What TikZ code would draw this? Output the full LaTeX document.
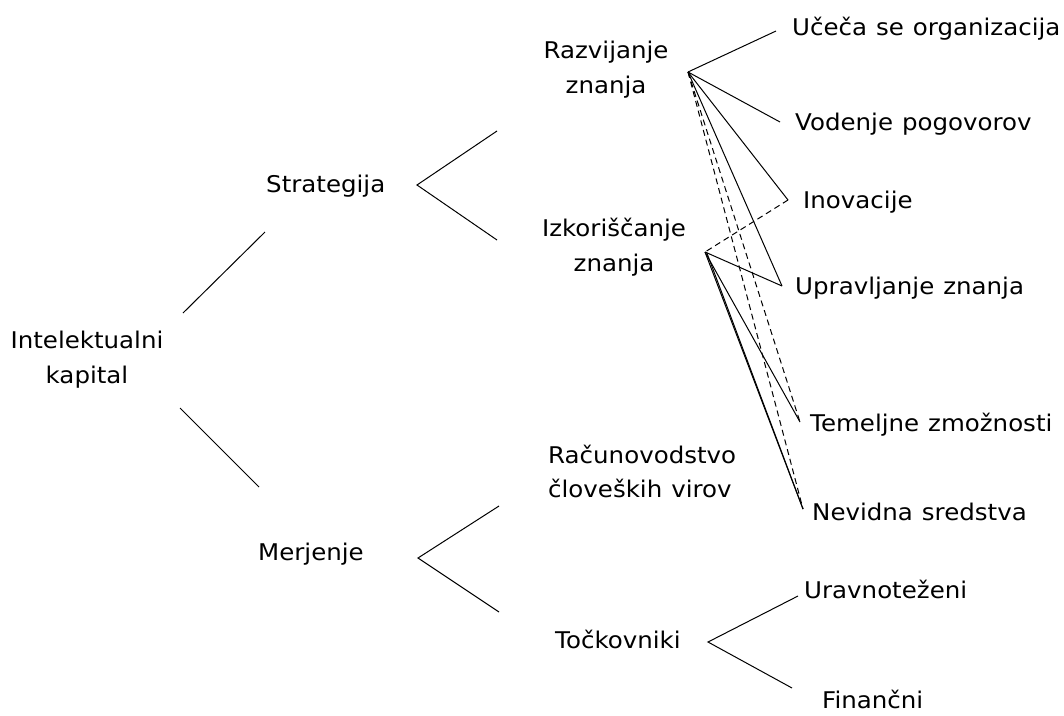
\documentclass[tikz,border=0pt]{standalone}
\usepackage{fontspec}
\setmainfont[FakeStretch=1.065,WordSpace=1.15]{DejaVu Sans}
\begin{document}
\begin{tikzpicture}[x=1pt,y=-1pt,
  lbl/.style={inner sep=0pt,anchor=base west,font=\fontsize{23}{34}\selectfont},
  lblc/.style={inner sep=0pt,anchor=base,align=center,font=\fontsize{23}{35}\selectfont},
  lbll/.style={inner sep=0pt,anchor=base west,align=left,font=\fontsize{23}{34}\selectfont},
  con/.style={line width=1pt,black},
  dcon/.style={line width=1pt,black,dash pattern=on 6pt off 4pt}]
\useasboundingbox (0,0) rectangle (1064,715);
% labels
\node[lblc] (ik) at (87,383) {Intelektualni\\kapital};
\node[lbl] (st) at (266,192) {Strategija};
\node[lbl] (me) at (258,560) {Merjenje};
\node[lblc] (rz) at (606,93) {Razvijanje\\znanja};
\node[lblc] (iz) at (614,271) {Izkoriščanje\\znanja};
\node[lbll] (ra) at (548,497) {Računovodstvo\\človeških virov};
\node[lbl] (tk) at (555,648) {Točkovniki};
\node[lbl] (uc) at (792,35) {Učeča se organizacija};
\node[lbl] (vo) at (795,130) {Vodenje pogovorov};
\node[lbl] (in) at (803,208) {Inovacije};
\node[lbl] (up) at (795,294) {Upravljanje znanja};
\node[lbl] (te) at (810,431) {Temeljne zmožnosti};
\node[lbl] (ne) at (812,520) {Nevidna sredstva};
\node[lbl] (ur) at (804,598) {Uravnoteženi};
\node[lbl] (fi) at (822,708) {Finančni};
% connector end points
\coordinate (ik1a) at (183,313); \coordinate (ik1b) at (265,232);
\coordinate (ik2a) at (180,408); \coordinate (ik2b) at (259,487);
\coordinate (sta) at (417,185); \coordinate (st1) at (497,131); \coordinate (st2) at (497,240);
\coordinate (mea) at (418,558); \coordinate (me1) at (499,506); \coordinate (me2) at (499,612);
\coordinate (tka) at (708,642); \coordinate (tk1) at (798,596); \coordinate (tk2) at (792,688);
\coordinate (R) at (688,72); \coordinate (I) at (705,252);
\coordinate (ucp) at (776,31); \coordinate (vop) at (780,122);
\coordinate (inp) at (788,200); \coordinate (upp) at (782,286);
\coordinate (tep) at (800,422); \coordinate (nep) at (803,509);
% tree connectors
\draw[con] (ik1a) -- (ik1b);
\draw[con] (ik2a) -- (ik2b);
\draw[con] (st1) -- (sta) -- (st2);
\draw[con] (me1) -- (mea) -- (me2);
\draw[con] (tk1) -- (tka) -- (tk2);
% Razvijanje links
\draw[con] (R) -- (ucp);
\draw[con] (R) -- (vop);
\draw[con] (R) -- (inp);
\draw[con] (R) -- (upp);
\draw[dcon] (R) -- (tep);
\draw[dcon] (R) -- (nep);
% Izkoriscanje links
\draw[dcon] (inp) -- (I);
\draw[con] (I) -- (upp);
\draw[con] (I) -- (tep);
\draw[con] (I) -- (nep);
\draw[con] ([xshift=1.5pt]I) -- (nep);
\end{tikzpicture}
\end{document}
